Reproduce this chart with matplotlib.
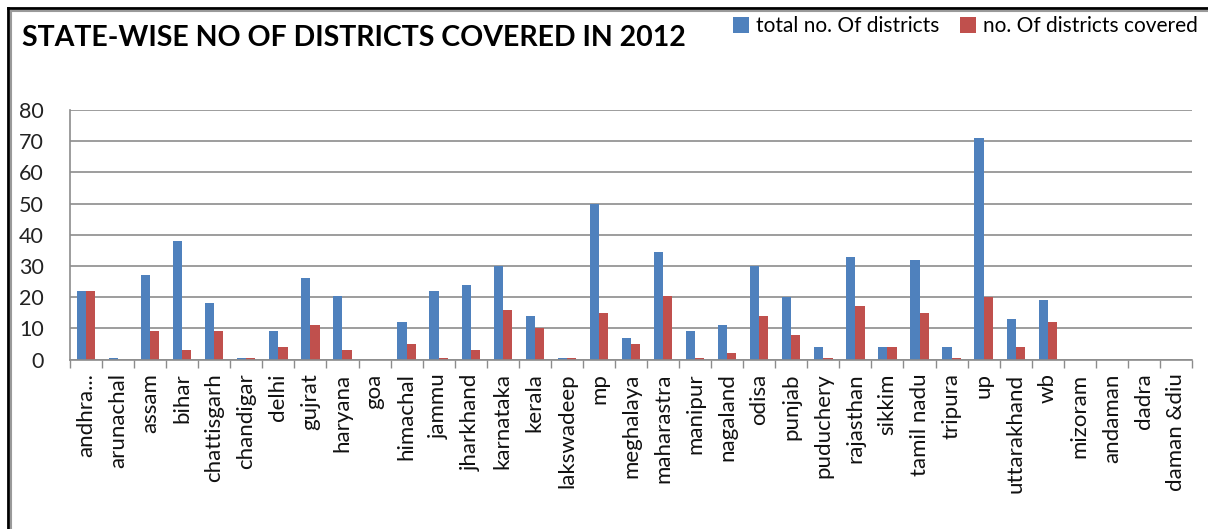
import matplotlib
matplotlib.use("Agg")
import numpy as np
import matplotlib.pyplot as plt
from matplotlib.lines import Line2D

W, H = 1208, 529

states = ["andhra...", "arunachal", "assam", "bihar", "chattisgarh", "chandigar",
          "delhi", "gujrat", "haryana", "goa", "himachal", "jammu", "jharkhand",
          "karnataka", "kerala", "lakswadeep", "mp", "meghalaya", "maharastra",
          "manipur", "nagaland", "odisa", "punjab", "puduchery", "rajasthan",
          "sikkim", "tamil nadu", "tripura", "up", "uttarakhand", "wb",
          "mizoram", "andaman", "dadra", "daman &diu"]

total_districts = [22, 0.5, 27, 38, 18, 0.5, 9, 26, 20.5, 0, 12, 22, 24, 30, 14,
                   0.5, 50, 7, 34.5, 9, 11, 30, 20, 4, 33, 4, 32, 4, 71, 13, 19,
                   0, 0, 0, 0]
covered_districts = [22, 0, 9, 3, 9, 0.5, 4, 11, 3, 0, 5, 0.5, 3, 16, 10,
                     0.5, 15, 5, 20.5, 0.5, 2, 14, 8, 0.5, 17, 4, 15, 0.5, 20, 4, 12,
                     0, 0, 0, 0]

BLUE = "#4F81BD"
RED = "#C0504D"
FONT = ["Lato", "DejaVu Sans"]

plt.rcParams['font.family'] = FONT

fig = plt.figure(figsize=(W / 100, H / 100), dpi=100)
ax = fig.add_axes([70 / W, 1 - 359.5 / H, (1192 - 70) / W, (359.5 - 110) / H])

x = np.arange(len(states))
bw = 1 / 3.5
ax.bar(x - bw / 2, total_districts, width=bw, color=BLUE, label="total no. Of districts")
ax.bar(x + bw / 2, covered_districts, width=bw, color=RED, label="no. Of districts covered")

ax.set_xlim(-0.5, len(states) - 0.5)
ax.set_ylim(0, 80)
ax.set_yticks(range(0, 81, 10))
ax.yaxis.grid(True, color="#8c8c8c", linewidth=1.2)
ax.set_axisbelow(True)
ax.tick_params(axis="y", length=0, labelsize=15.5, pad=19, colors="#222222")

# category boundaries as outward ticks, labels centred on each category
ax.set_xticks(np.arange(-0.5, len(states)), minor=False)
ax.set_xticklabels([])
ax.set_xticks(x, minor=True)
ax.set_xticklabels(states, minor=True, rotation=90, fontsize=16, va="top", ha="center")
ax.tick_params(axis="x", which="major", length=6, width=1, color="#8c8c8c", direction="out")
ax.tick_params(axis="x", which="minor", length=0, pad=10, colors="#111111")

for s in ["top", "right"]:
    ax.spines[s].set_visible(False)
ax.spines["left"].set_color("#8c8c8c")
ax.spines["bottom"].set_color("#8c8c8c")
ax.spines["left"].set_linewidth(1.2)
ax.spines["bottom"].set_linewidth(1.2)

fig.text(22 / W, 1 - 38 / H, "STATE-WISE NO OF DISTRICTS COVERED IN 2012",
         fontsize=20.5, fontweight="bold", va="center", ha="left", color="black")

fig.legend(loc="center right", bbox_to_anchor=(1.0, 1 - 26 / H), ncol=2, frameon=False,
           fontsize=15, handlelength=0.8, handleheight=0.8, handletextpad=0.3,
           columnspacing=1.0, borderaxespad=0.1)

# outer chart border (left and top edges)
fig.add_artist(Line2D([8 / W, 8 / W], [0, 1 - 8 / H], transform=fig.transFigure, color="black", linewidth=2))
fig.add_artist(Line2D([8 / W, 1], [1 - 8 / H, 1 - 8 / H], transform=fig.transFigure, color="black", linewidth=2))
fig.add_artist(Line2D([11 / W, 11 / W], [0, 1 - 11 / H], transform=fig.transFigure, color="#9a9a9a", linewidth=1.5))
fig.add_artist(Line2D([11 / W, 1], [1 - 11 / H, 1 - 11 / H], transform=fig.transFigure, color="#9a9a9a", linewidth=1.5))

fig.savefig("out.png", dpi=100)
